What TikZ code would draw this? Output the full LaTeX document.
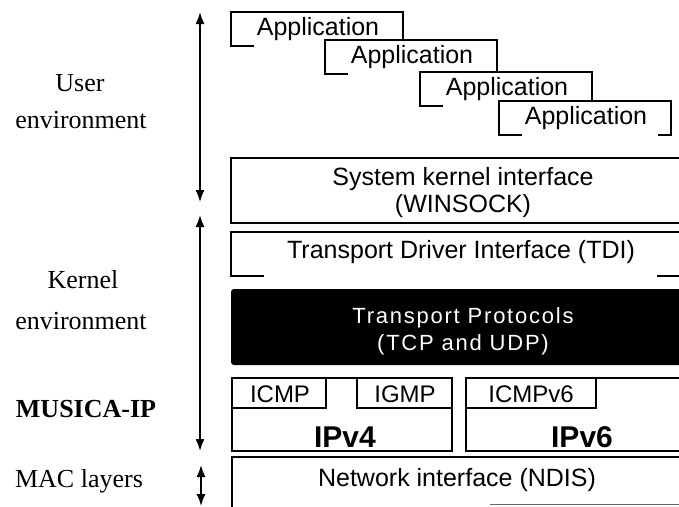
\documentclass[tikz,border=0pt]{standalone}
\usepackage{fontspec}
\setmainfont{Liberation Serif}
\setsansfont{Liberation Sans}
\usetikzlibrary{arrows.meta}
\begin{document}
\begin{tikzpicture}[x=1pt,y=-1pt,
  bline/.style={line width=2pt, line cap=rect, line join=miter},
  boxtext/.style={font=\fontsize{25}{27}\selectfont\sffamily, align=center, inner sep=0pt},
  smalltext/.style={font=\fontsize{24}{26}\selectfont\sffamily, inner sep=0pt},
  iptext/.style={font=\fontsize{30}{32}\selectfont\sffamily\bfseries, inner sep=0pt},
  sidetext/.style={font=\fontsize{26}{30}\selectfont, anchor=base, inner sep=0pt},
  dblarrow/.style={line width=1.6pt, {Latex[length=12pt,width=9pt]}-{Latex[length=12pt,width=9pt]}}]
\useasboundingbox[fill=white] (0,0) rectangle (679,506);

% Application windows (stacked)
\foreach \x/\y/\n in {231/12/app1, 325/40/app2, 420/72/app3, 499/101/app4}{
  \fill[white] (\x,\y) rectangle ++(172,34);
  \draw[bline] (\x+22,\y+34) -- (\x,\y+34) -- (\x,\y) -- (\x+172,\y) -- (\x+172,\y+34) -- (\x+160,\y+34);
  \node[boxtext] (\n) at (\x+87,\y+17) {Application};
}

% System kernel interface
\draw[bline] (690,158) -- (231,158) -- (231,223) -- (690,223);
\node[boxtext] (winsock) at (463,193) {System kernel interface\\(WINSOCK)};

% TDI
\draw[bline] (263,276) -- (231,276) -- (231,232) -- (690,232);
\draw[bline] (658,276) -- (690,276);
\node[boxtext] (tdi) at (461,252) {Transport Driver Interface (TDI)};

% Transport protocols
\fill[black, rounded corners=3pt] (231,289) rectangle (700,365);
\node[font=\fontsize{22}{27}\selectfont\sffamily\addfontfeatures{LetterSpace=8}, text=white, align=center, inner sep=0pt] (tp) at (463,331) {Transport Protocols\\(TCP and UDP)};

% IPv4
\draw[bline] (232,378) rectangle (452,451);
\draw[bline] (232,378) rectangle (326,408);
\draw[bline] (357,378) rectangle (452,408);
\node[smalltext] (icmp) at (280,394) {ICMP};
\node[smalltext] (igmp) at (405,394) {IGMP};
\node[iptext] (ipv4) at (345,437) {IPv4};

% IPv6
\draw[bline] (700,378) -- (466,378) -- (466,451) -- (700,451);
\draw[bline] (466,378) rectangle (596,408);
\node[smalltext] (icmpv6) at (531,394) {ICMPv6};
\node[iptext] (ipv6) at (582,437) {IPv6};

% NDIS
\draw[bline] (232,515) -- (232,457) -- (690,457);
\draw[line width=0.8pt, black!60] (490,504) -- (690,504);
\node[boxtext] (ndis) at (457,480) {Network interface (NDIS)};

% Side labels
\node[sidetext] (user) at (80,91) {User};
\node[sidetext] (uenv) at (81,128) {environment};
\node[sidetext] (kern) at (83,288) {Kernel};
\node[sidetext] (kenv) at (81,329) {environment};
\node[sidetext, font=\fontsize{26}{30}\selectfont\bfseries] (musica) at (86,417) {MUSICA-IP};
\node[sidetext] (mac) at (79,487) {MAC layers};

% Arrows
\coordinate (ua) at (200,12);
\coordinate (ub) at (200,202);
\coordinate (ka) at (200,215);
\coordinate (kb) at (200,451);
\coordinate (ma) at (201,465);
\coordinate (mb) at (201,506);
\draw[dblarrow] (ua) -- (ub);
\draw[dblarrow] (ka) -- (kb);
\draw[dblarrow] (ma) -- (mb);
\end{tikzpicture}
\end{document}
